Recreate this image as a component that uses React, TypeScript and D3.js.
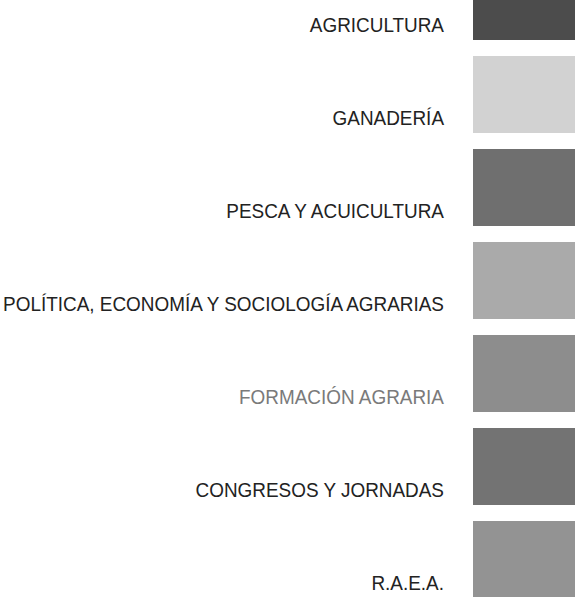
import React, { useLayoutEffect, useRef, useState } from 'react'
import * as d3 from 'd3'

const WIDTH = 575
const HEIGHT = 597

// categorías de la leyenda
const categories = [
    'AGRICULTURA',
    'GANADERÍA',
    'PESCA Y ACUICULTURA',
    'POLÍTICA, ECONOMÍA Y SOCIOLOGÍA AGRARIAS',
    'FORMACIÓN AGRARIA',
    'CONGRESOS Y JORNADAS',
    'R.A.E.A.',
]

// tonos de gris de cada muestra
const swatchColors = ['#4c4c4c', '#d2d2d2', '#6f6f6f', '#aaaaaa', '#8d8d8d', '#737373', '#939393']

const textColors = ['#222222', '#222222', '#222222', '#222222', '#7a7a7a', '#222222', '#222222']

const App = () => {
    const step = 93
    const gap = 16
    const swatchX = 473
    const labelX = 444
    const longest = 441 // ancho de la etiqueta más larga en el original

    const labelsRef = useRef<SVGGElement>(null)
    const [sx, setSx] = useState(0.87)

    useLayoutEffect(() => {
        if (!labelsRef.current) return
        const texts = Array.from(labelsRef.current.querySelectorAll('text')) as SVGTextElement[]
        const w = d3.max(texts, t => t.getComputedTextLength()) || 1
        setSx(longest / w)
    }, [])

    const yScale = d3
        .scaleBand()
        .domain(categories)
        .range([-37 - gap / 2, -37 - gap / 2 + step * categories.length])
        .paddingInner(gap / step)
        .paddingOuter(gap / step / 2)

    const bw = yScale.bandwidth()

    return (
        <div style={{ position: 'fixed', left: 0, top: 0 }}>
            <svg width={WIDTH} height={HEIGHT} style={{ display: 'block', background: '#fff' }}>
                {/* muestras */}
                {categories.map((c, i) => (
                    <rect key={c} x={swatchX} y={yScale(c)} width={WIDTH - swatchX} height={bw} fill={swatchColors[i]} />
                ))}
                {/* etiquetas */}
                <g transform={`translate(${labelX},0) scale(${sx},1)`}>
                    <g ref={labelsRef}>
                        {categories.map((c, i) => (
                            <text
                                key={c}
                                x={0}
                                y={yScale(c) + bw - 8}
                                textAnchor="end"
                                fontFamily="'Liberation Sans', Arial, sans-serif"
                                fontSize={19.5}
                                fill={textColors[i]}
                            >
                                {c}
                            </text>
                        ))}
                    </g>
                </g>
            </svg>
        </div>
    )
}

export default App
